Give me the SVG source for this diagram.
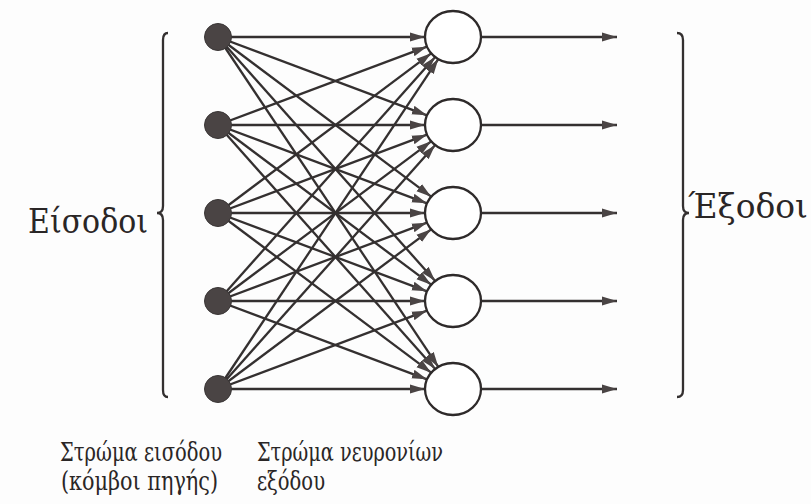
<svg xmlns="http://www.w3.org/2000/svg" width="811" height="504" viewBox="0 0 811 504">
<style>
  .edge { stroke: #343030; stroke-width: 2.3; fill: none; }
  .in { fill: #4a4444; stroke: #3a3636; stroke-width: 1; }
  .out { fill: #ffffff; stroke: #2e2a2a; stroke-width: 2.3; }
  .brace { stroke: #343030; stroke-width: 2.3; fill: none; }
  .lbl { font-family: "DejaVu Serif", "Liberation Serif", serif; fill: #2a2626; }
  .big { font-size: 33px; }
  .small { font-size: 26px; }
</style>
<defs>
  <marker id="ah" markerUnits="userSpaceOnUse" markerWidth="16" markerHeight="10" refX="15" refY="5" orient="auto">
    <path d="M0,0.5 L15,5 L0,9.5 z" fill="#4a4444"/>
  </marker>
</defs>
<rect width="811" height="504" fill="#fdfdfd"/>
<g id="connectors">
  <line class="edge" marker-end="url(#ah)" x1="218" y1="37" x2="425" y2="37"/>
  <line class="edge" marker-end="url(#ah)" x1="218" y1="37" x2="427" y2="115.3"/>
  <line class="edge" marker-end="url(#ah)" x1="218" y1="37" x2="431.2" y2="196.7"/>
  <line class="edge" marker-end="url(#ah)" x1="218" y1="37" x2="435.2" y2="281"/>
  <line class="edge" marker-end="url(#ah)" x1="218" y1="37" x2="438.3" y2="366.9"/>
  <line class="edge" marker-end="url(#ah)" x1="218" y1="125" x2="427" y2="46.7"/>
  <line class="edge" marker-end="url(#ah)" x1="218" y1="125" x2="425" y2="125"/>
  <line class="edge" marker-end="url(#ah)" x1="218" y1="125" x2="427" y2="203.3"/>
  <line class="edge" marker-end="url(#ah)" x1="218" y1="125" x2="431.2" y2="284.7"/>
  <line class="edge" marker-end="url(#ah)" x1="218" y1="125" x2="435.2" y2="369"/>
  <line class="edge" marker-end="url(#ah)" x1="218" y1="213" x2="431.2" y2="53.3"/>
  <line class="edge" marker-end="url(#ah)" x1="218" y1="213" x2="427" y2="134.7"/>
  <line class="edge" marker-end="url(#ah)" x1="218" y1="213" x2="425" y2="213"/>
  <line class="edge" marker-end="url(#ah)" x1="218" y1="213" x2="427" y2="291.3"/>
  <line class="edge" marker-end="url(#ah)" x1="218" y1="213" x2="431.2" y2="372.7"/>
  <line class="edge" marker-end="url(#ah)" x1="218" y1="301" x2="435.2" y2="57"/>
  <line class="edge" marker-end="url(#ah)" x1="218" y1="301" x2="431.2" y2="141.3"/>
  <line class="edge" marker-end="url(#ah)" x1="218" y1="301" x2="427" y2="222.7"/>
  <line class="edge" marker-end="url(#ah)" x1="218" y1="301" x2="425" y2="301"/>
  <line class="edge" marker-end="url(#ah)" x1="218" y1="301" x2="427" y2="379.3"/>
  <line class="edge" marker-end="url(#ah)" x1="218" y1="389" x2="438.3" y2="59.1"/>
  <line class="edge" marker-end="url(#ah)" x1="218" y1="389" x2="435.2" y2="145"/>
  <line class="edge" marker-end="url(#ah)" x1="218" y1="389" x2="431.2" y2="229.3"/>
  <line class="edge" marker-end="url(#ah)" x1="218" y1="389" x2="427" y2="310.7"/>
  <line class="edge" marker-end="url(#ah)" x1="218" y1="389" x2="425" y2="389"/>
  <line class="edge" marker-end="url(#ah)" x1="481" y1="37" x2="617" y2="37"/>
  <line class="edge" marker-end="url(#ah)" x1="481" y1="125" x2="617" y2="125"/>
  <line class="edge" marker-end="url(#ah)" x1="481" y1="213" x2="617" y2="213"/>
  <line class="edge" marker-end="url(#ah)" x1="481" y1="301" x2="617" y2="301"/>
  <line class="edge" marker-end="url(#ah)" x1="481" y1="389" x2="617" y2="389"/>
</g>
<g id="in1"><circle class="in" cx="218" cy="37" r="13.5"/></g>
<g id="in2"><circle class="in" cx="218" cy="125" r="13.5"/></g>
<g id="in3"><circle class="in" cx="218" cy="213" r="13.5"/></g>
<g id="in4"><circle class="in" cx="218" cy="301" r="13.5"/></g>
<g id="in5"><circle class="in" cx="218" cy="389" r="13.5"/></g>
<g id="out1"><ellipse class="out" cx="453" cy="37" rx="28" ry="26"/></g>
<g id="out2"><ellipse class="out" cx="453" cy="125" rx="28" ry="26"/></g>
<g id="out3"><ellipse class="out" cx="453" cy="213" rx="28" ry="26"/></g>
<g id="out4"><ellipse class="out" cx="453" cy="301" rx="28" ry="26"/></g>
<g id="out5"><ellipse class="out" cx="453" cy="389" rx="28" ry="26"/></g>
<g id="inputs-brace">
  <path class="brace" d="M168,33 Q163,33 163,40 L163,206 Q163,213 157,213 Q163,213 163,220 L163,390 Q163,397 168,397"/>
  <text class="lbl big" x="28" y="233" textLength="120" lengthAdjust="spacingAndGlyphs">Είσοδοι</text>
</g>
<g id="outputs-brace">
  <path class="brace" d="M677,33 Q683,33 683,40 L683,206 Q683,213 689,213 Q683,213 683,220 L683,390 Q683,397 677,397"/>
  <text class="lbl big" x="688" y="218" textLength="120" lengthAdjust="spacingAndGlyphs">Έξοδοι</text>
</g>
<g id="input-layer-label">
  <text class="lbl small" x="60" y="461" textLength="162" lengthAdjust="spacingAndGlyphs">Στρώμα εισόδου</text>
  <text class="lbl small" x="61" y="490" textLength="157" lengthAdjust="spacingAndGlyphs">(κόμβοι πηγής)</text>
</g>
<g id="output-layer-label">
  <text class="lbl small" x="257" y="461" textLength="186" lengthAdjust="spacingAndGlyphs">Στρώμα νευρονίων</text>
  <text class="lbl small" x="257" y="490" textLength="68" lengthAdjust="spacingAndGlyphs">εξόδου</text>
</g>
</svg>
